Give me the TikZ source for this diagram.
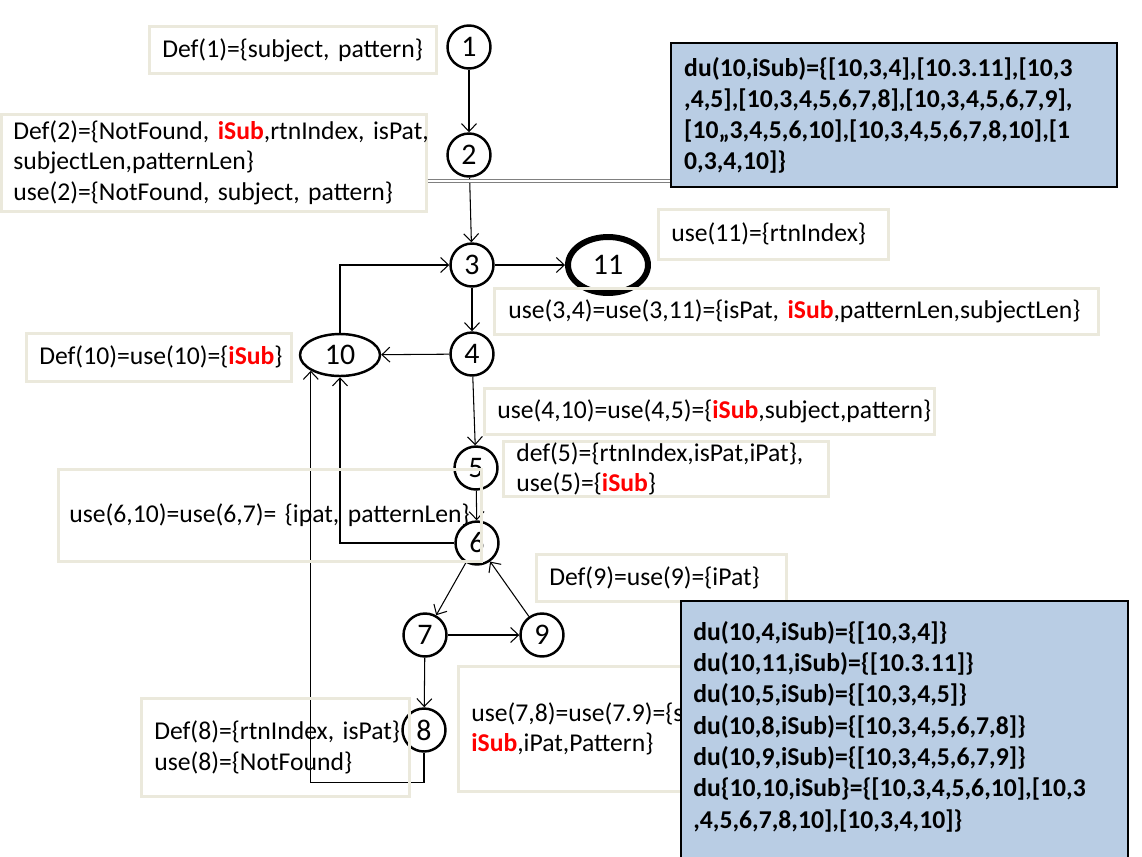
\documentclass[tikz,border=0pt]{standalone}
\usepackage{fontspec}
\setmainfont{Carlito}
\usetikzlibrary{shapes.geometric, arrows.meta, positioning}
\definecolor{boxline}{RGB}{235,233,220}
\definecolor{dufill}{RGB}{185,205,228}
\definecolor{subred}{RGB}{255,0,0}
\newcommand{\isub}{\textcolor{subred}{\textbf{iSub}}}
\tikzset{
  vertex/.style={circle, draw, line width=1.4pt, minimum size=0.86cm,
    inner sep=0pt, font=\fontsize{17}{19}\selectfont},
  loopnode/.style={ellipse, draw, line width=1.4pt, minimum width=1.6cm,
    minimum height=0.84cm, inner sep=0pt, font=\fontsize{17}{19}\selectfont},
  exitnode/.style={ellipse, draw, line width=3.4pt, minimum width=1.6cm,
    minimum height=1.12cm, inner sep=0pt, font=\fontsize{17}{19}\selectfont},
  tbox/.style={rectangle, draw=boxline, line width=1.5pt, anchor=north west,
    align=left, inner ysep=0pt, inner xsep=0.26cm,
    font=\fontsize{14.6}{17.4}\selectfont},
  dubox/.style={rectangle, draw=black, fill=dufill, line width=1.4pt,
    anchor=north west, align=left, inner ysep=0pt, inner xsep=0.26cm,
    font=\fontsize{14.6}{17.6}\selectfont\bfseries},
  arrow/.style={-{Straight Barb[length=4.5pt,width=8.5pt]}, line width=0.6pt},
  dline/.style={double=white, draw=gray, line width=0.5pt, double distance=0.8pt}
}
\begin{document}
\begin{tikzpicture}[x=0.02cm, y=-0.02cm]
  \useasboundingbox (0,0) rectangle (1142,856);

  % flow graph nodes
  \node[vertex] (n1) at (469,47) {1};
  \node[vertex] (n2) at (469,155) {2};
  \node[vertex] (n3) at (472,265) {3};
  \node[exitnode] (n11) at (608,265) {11};
  \node[vertex] (n4) at (472,354) {4};
  \node[loopnode] (n10) at (340,355) {10};
  \node[vertex] (n5) at (476,468) {5};
  \node[vertex] (n6) at (477,543) {6};
  \node[vertex] (n7) at (425,635) {7};
  \node[vertex] (n9) at (542,635) {9};
  \node[vertex] (n8) at (424,730) {8};

  % edges
  \draw[arrow] (n1) -- (n2);
  \draw[arrow] (n2) -- (n3);
  \draw[arrow] (n3) -- (n11);
  \draw[arrow] (n3) -- (n4);
  \draw[arrow] (n4) -- (n10);
  \draw[arrow] (n4) -- (n5);
  \draw[arrow] (n5) -- (n6);
  \draw[arrow] (n6) -- (n7);
  \draw[arrow] (n7) -- (n9);
  \draw[arrow] (n9) -- (n6);
  \draw[arrow] (n7) -- (n8);
  \draw[arrow] (n10.north) |- (n3.west);
  \draw[arrow] (n6.west) -| (n10.south);
  \draw[arrow] (n8.south) -- ++(0,30) -| (n10.south west);

  % def/use annotations
  \node[tbox, text width=5.22cm, minimum height=0.94cm] (def1) at (148,25)
    {Def(1)=\{subject, pattern\}};
  \node[tbox, text width=8.02cm, minimum height=1.94cm, inner xsep=0.24cm] (def2) at (0,113)
    {\mbox{Def(2)=\{NotFound, \isub,rtnIndex, isPat,}\\subjectLen,patternLen\}\\use(2)=\{NotFound, subject, pattern\}};
  \node[tbox, text width=4.08cm, minimum height=1.0cm] (use11) at (657,208)
    {use(11)=\{rtnIndex\}};
  \node[tbox, text width=11.52cm, minimum height=0.92cm, inner xsep=0.28cm] (use34) at (493,287)
    {use(3,4)=use(3,11)=\{isPat, \isub,patternLen,subjectLen\}};
  \node[tbox, text width=4.78cm, minimum height=0.96cm] (def10) at (25,332)
    {Def(10)=use(10)=\{\isub\}};
  \node[tbox, text width=8.48cm, minimum height=0.92cm] (use410) at (483,387)
    {use(4,10)=use(4,5)=\{\isub,subject,pattern\}};
  \node[tbox, text width=5.98cm, minimum height=1.1cm] (def5) at (502,440)
    {def(5)=\{rtnIndex,isPat,iPat\},\\use(5)=\{\isub\}};
  \node[tbox, text width=8.02cm, minimum height=1.84cm, inner xsep=0.22cm] (use610) at (57,468)
    {use(6,10)=use(6,7)= \{ipat, patternLen\}};
  \node[tbox, text width=4.48cm, minimum height=0.94cm] (def9) at (535,553)
    {Def(9)=use(9)=\{iPat\}};
  \node[tbox, text width=4.84cm, minimum height=1.96cm] (def8) at (140,697)
    {\mbox{Def(8)=\{rtnIndex, isPat\}}\\use(8)=\{NotFound\}};
  \node[tbox, text width=4.68cm, minimum height=2.5cm] (use78) at (457,665)
    {\mbox{use(7,8)=use(7.9)=\{s}\\\isub,iPat,Pattern\}};

  % du paths of iSub
  \draw[dline] (def2.east |- 0,181) -- (670,181);
  \node[dubox, text width=8.4cm, minimum height=2.88cm] (du1) at (670,42)
    {du(10,iSub)=\{[10,3,4],[10.3.11],[10,3\\,4,5],[10,3,4,5,6,7,8],[10,3,4,5,6,7,9],\\{}%
     [10,,3,4,5,6,10],[10,3,4,5,6,7,8,10],[1\\0,3,4,10]\}};
  \node[dubox, text width=8.42cm, minimum height=6cm] (du2) at (680,600) {};
  \node[anchor=north west, align=left, inner sep=0pt,
    font=\fontsize{14.6}{17.8}\selectfont\bfseries] (du2txt) at (693,621)
    {du(10,4,iSub)=\{[10,3,4]\}\\du(10,11,iSub)=\{[10.3.11]\}\\du(10,5,iSub)=\{[10,3,4,5]\}\\
     du(10,8,iSub)=\{[10,3,4,5,6,7,8]\}\\du(10,9,iSub)=\{[10,3,4,5,6,7,9]\}\\
     du\{10,10,iSub\}=\{[10,3,4,5,6,10],[10,3\\,4,5,6,7,8,10],[10,3,4,10]\}};
\end{tikzpicture}
\end{document}
